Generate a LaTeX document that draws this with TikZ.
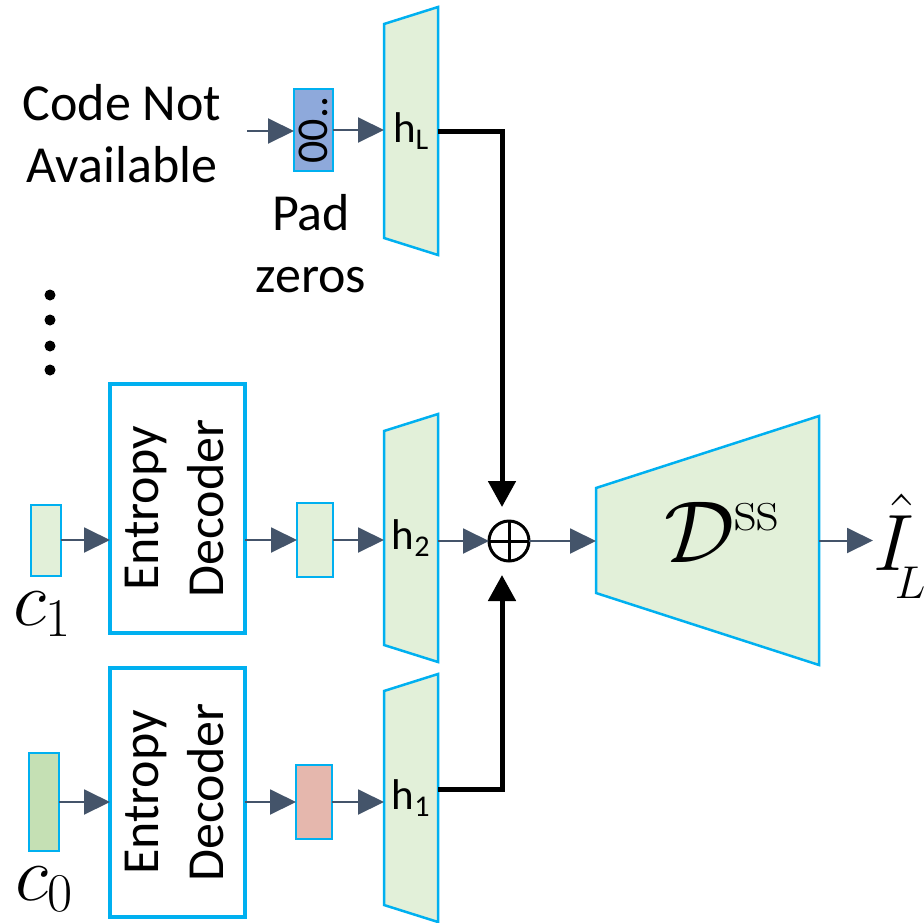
\RequirePackage{fix-cm}
\documentclass[tikz,border=0pt]{standalone}
\usepackage[no-math]{fontspec}
\setmainfont{Carlito}
\usepackage{amsmath}
\usepackage{graphicx}
\usepackage{tikz}
\usetikzlibrary{arrows.meta,positioning,calc}
\usepackage{xcolor}
\definecolor{bordercyan}{RGB}{0,176,240}
\definecolor{latentgreen}{RGB}{226,240,217}
\definecolor{codegreen}{RGB}{197,224,180}
\definecolor{padblue}{RGB}{142,169,219}
\definecolor{quantpink}{RGB}{229,183,173}
\definecolor{flowgray}{RGB}{68,84,106}
\pgfdeclarelayer{background}
\pgfsetlayers{background,main}

\begin{document}
\begin{tikzpicture}[x=1pt, y=-1pt,
    every node/.style={font=\fontsize{52}{62}\selectfont, inner sep=0pt, outer sep=0pt},
    codebox/.style={draw=bordercyan, line width=2pt, minimum width=30pt},
    edbox/.style={draw=bordercyan, line width=3.5pt, minimum width=135pt, minimum height=249pt,
      font=\fontsize{52}{65}\selectfont},
    hbase/.style={minimum width=54pt, minimum height=248pt, font=\fontsize{43}{50}\selectfont},
    trap/.style={draw=bordercyan, line width=2.5pt, fill=latentgreen},
    flow/.style={-{Triangle[length=26pt,width=25pt]}, flowgray, line width=2pt},
    merge/.style={-{Triangle[length=26pt,width=27pt]}, black, line width=5pt, shorten >=14pt}]
        \useasboundingbox (0,0) rectangle (924,922);
        % level L: code not available
        \node[align=center] (cna) at (122,134) {Code Not\\Available};
        \coordinate (nafree) at (247,131);
        \node[codebox, fill=padblue, minimum width=39pt, minimum height=82pt] (pad) at (313.5,130)
          {\fontsize{44}{44}\selectfont\rotatebox{90}{00..}};
        \node[align=center] (padtxt) at (311,244) {Pad\\zeros};
        \node[hbase] (hL) at (411,131) {h\textsubscript{L}};
        \foreach \y in {295,320,346,370}
          \fill (50,\y) circle (5.5pt);
        % level 1
        \node[codebox, fill=latentgreen, minimum height=71pt] (c1) at (45.5,540) {};
        \node[anchor=base west, font=\fontsize{78}{78}\selectfont] (c1lbl) at (13,625) {$c_1$};
        \node[edbox] (ed1) at (177.5,508.5)
          {\rotatebox{90}{\begin{tabular}{@{}c@{}}Entropy\\Decoder\end{tabular}}};
        \node[codebox, fill=latentgreen, minimum width=36pt, minimum height=74pt] (q1) at (315,540) {};
        \node[hbase] (h2) at (411,538) {h\textsubscript{2}};
        % level 0
        \node[codebox, fill=codegreen, minimum height=98pt] (c0) at (44,802) {};
        \node[anchor=base west, font=\fontsize{78}{78}\selectfont] (c0lbl) at (15,900) {$c_0$};
        \node[edbox] (ed0) at (177.5,792.5)
          {\rotatebox{90}{\begin{tabular}{@{}c@{}}Entropy\\Decoder\end{tabular}}};
        \node[codebox, fill=quantpink, minimum width=36pt, minimum height=74pt] (q0) at (314,802) {};
        \node[hbase] (h1) at (411,798) {h\textsubscript{1}};
        % merge and synthesis
        \node[circle, draw, line width=3pt, minimum size=40pt,
          path picture={\draw[line width=3pt] (path picture bounding box.north) -- (path picture bounding box.south)
            (path picture bounding box.west) -- (path picture bounding box.east);}] (sum) at (509,541) {};
        \node[minimum width=223pt, minimum height=249pt] (dec) at (707.5,540.5) {};
        \node[font=\fontsize{88}{88}\selectfont] (declbl) at (722,532) {$\mathcal{D}^{\mathrm{ss}}$};
        \node[anchor=base west, font=\fontsize{80}{80}\selectfont] (ihat) at (873,570)
          {$\hat{I}$\kern-19pt\lower28pt\hbox{\fontsize{46}{46}\selectfont$L$}};
        \begin{pgfonlayer}{background}
          \foreach \h in {hL,h2,h1}
            \draw[trap] ($(\h.north west)+(0,17)$) -- (\h.north east) -- (\h.south east)
              -- ($(\h.south west)+(0,-17)$) -- cycle;
          \draw[trap] ($(dec.north west)+(0,72)$) -- (dec.north east) -- (dec.south east)
            -- ($(dec.south west)+(0,-72)$) -- cycle;
        \end{pgfonlayer}
        % connectors
        \draw[flow] (nafree) -- (nafree -| pad.west);
        \draw[flow] (pad.east) -- (pad.east -| hL.west);
        \draw[flow] (c1.east) -- (c1.east -| ed1.west);
        \draw[flow] (ed1.east |- q1) -- (q1.west);
        \draw[flow] (q1.east) -- (q1.east -| h2.west);
        \draw[flow] (h2.east |- sum) -- (sum.west);
        \draw[flow] (c0.east) -- (c0.east -| ed0.west);
        \draw[flow] (ed0.east |- q0) -- (q0.west);
        \draw[flow] (q0.east) -- (q0.east -| h1.west);
        \draw[flow] (sum.east) -- (sum.east -| dec.west);
        \draw[flow] (dec.east) -- (dec.east -| ihat.west);
        \draw[merge] (hL.east) -| ([xshift=-7pt]sum.north);
        \draw[merge] ([yshift=9pt]h1.east) -| ([xshift=-7pt]sum.south);
      \end{tikzpicture}
\end{document}
